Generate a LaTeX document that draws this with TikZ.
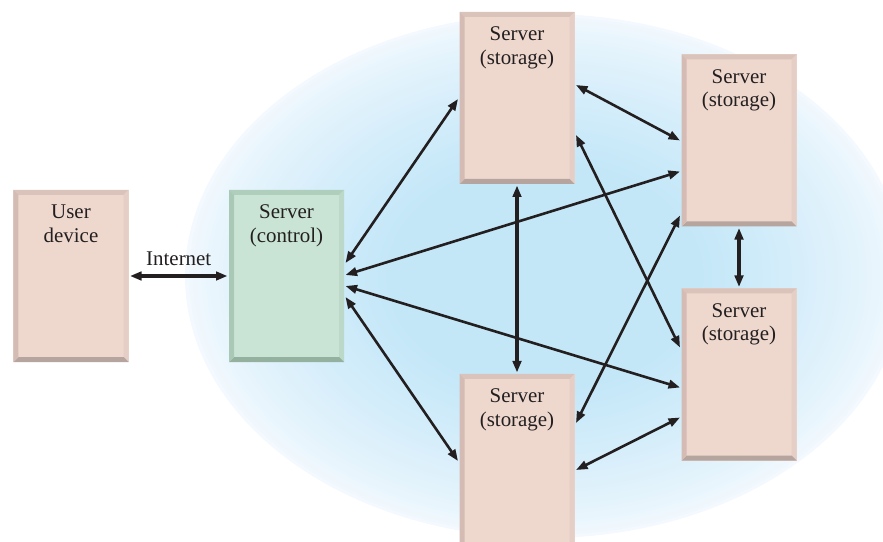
\documentclass[tikz,border=0pt]{standalone}
\usepackage{fontspec}
\setmainfont{Liberation Serif}
\usetikzlibrary{arrows.meta}
\definecolor{cin}{RGB}{196,231,248}
\definecolor{cout}{RGB}{243,249,254}
\definecolor{pinkfill}{RGB}{238,216,206}
\definecolor{pinktop}{RGB}{218,195,186}
\definecolor{pinkleft}{RGB}{212,188,180}
\definecolor{pinkright}{RGB}{228,206,197}
\definecolor{pinkbot}{RGB}{182,164,158}
\definecolor{greenfill}{RGB}{201,228,212}
\definecolor{greentop}{RGB}{176,206,188}
\definecolor{greenleft}{RGB}{170,200,182}
\definecolor{greenright}{RGB}{188,216,200}
\definecolor{greenbot}{RGB}{148,176,159}
\definecolor{ink}{RGB}{35,31,32}
\tikzset{
  bevel/.style n args={5}{fill=#1, path picture={
    \coordinate (nw) at (path picture bounding box.north west);
    \coordinate (ne) at (path picture bounding box.north east);
    \coordinate (se) at (path picture bounding box.south east);
    \coordinate (sw) at (path picture bounding box.south west);
    \fill[#2] (nw) -- (ne) -- ([shift={(-5bp,-5bp)}]ne) -- ([shift={(5bp,-5bp)}]nw) -- cycle;
    \fill[#3] (ne) -- (se) -- ([shift={(-5bp,5bp)}]se) -- ([shift={(-5bp,-5bp)}]ne) -- cycle;
    \fill[#4] (sw) -- (se) -- ([shift={(-5bp,5bp)}]se) -- ([shift={(5bp,5bp)}]sw) -- cycle;
    \fill[#5] (nw) -- (sw) -- ([shift={(5bp,5bp)}]sw) -- ([shift={(5bp,-5bp)}]nw) -- cycle;
  }},
  box/.style={rectangle, minimum width=115bp, minimum height=172bp, inner sep=0pt, outer sep=1.5bp},
  pinkbox/.style={box, bevel={pinkfill}{pinktop}{pinkright}{pinkbot}{pinkleft}},
  greenbox/.style={box, bevel={greenfill}{greentop}{greenright}{greenbot}{greenleft}},
  lbl/.style={font=\fontsize{21}{24}\selectfont, text=ink, align=center, inner sep=0pt},
  link/.style={draw=ink, line width=2.6bp, {Triangle[length=11.5bp,width=8.5bp]}-{Triangle[length=11.5bp,width=8.5bp]}},
  thicklink/.style={link, line width=3.8bp}
}
\begin{document}
\begin{tikzpicture}[x=1bp,y=-1bp]
\useasboundingbox (0,0) rectangle (883,542);
% shaded background ellipse
\foreach \k in {0,...,48}{
  \pgfmathsetmacro\rr{1-\k*0.56/48}
  \pgfmathsetmacro\pp{100*(\k/48)^0.75}
  \fill[cin!\pp!cout] (545,276) ellipse [x radius=\rr*360bp, y radius=\rr*262bp];
}
% boxes
\node[pinkbox] (U) at (71,276) {};
\node[greenbox] (C) at (286.5,276) {};
\node[pinkbox] (S1) at (517,98) {};
\node[pinkbox] (S2) at (739,140.5) {};
\node[pinkbox] (S3) at (739,374.5) {};
\node[pinkbox, minimum height=174bp] (S4) at (517,461) {};
% labels
\node[lbl, anchor=north] (Ut) at ([yshift=-16bp]U.north) {User\\device};
\node[lbl, anchor=north] (Ct) at ([yshift=-16bp]C.north) {Server\\(control)};
\node[lbl, anchor=north] (S1t) at ([yshift=-16bp]S1.north) {Server\\(storage)};
\node[lbl, anchor=north] (S2t) at ([yshift=-16bp]S2.north) {Server\\(storage)};
\node[lbl, anchor=north] (S3t) at ([yshift=-16bp]S3.north) {Server\\(storage)};
\node[lbl, anchor=north] (S4t) at ([yshift=-16bp]S4.north) {Server\\(storage)};
% connectors
\draw[thicklink] (U) -- node[lbl, anchor=base, yshift=10bp] (inet) {Internet} (C);
\draw[link] ([yshift=13bp]C.east) -- ([yshift=-1bp]S1.west);
\draw[link] ([yshift=1bp]C.east) -- ([yshift=-31bp]S2.west);
\draw[link] ([yshift=-10bp]C.east) -- ([yshift=-13bp]S3.west);
\draw[link] ([yshift=-21bp]C.east) -- (S4.west);
\draw[link] ([yshift=13bp]S1.east) -- (S2.west);
\draw[link] ([yshift=-37bp]S1.east) -- ([yshift=27bp]S3.west);
\draw[thicklink] (S1.south) -- (S4.north);
\draw[link] ([yshift=38bp]S4.east) -- ([yshift=-75bp]S2.west);
\draw[link] ([yshift=-9bp]S4.east) -- ([yshift=-43bp]S3.west);
\draw[thicklink] (S2.south) -- (S3.north);
\end{tikzpicture}
\end{document}
